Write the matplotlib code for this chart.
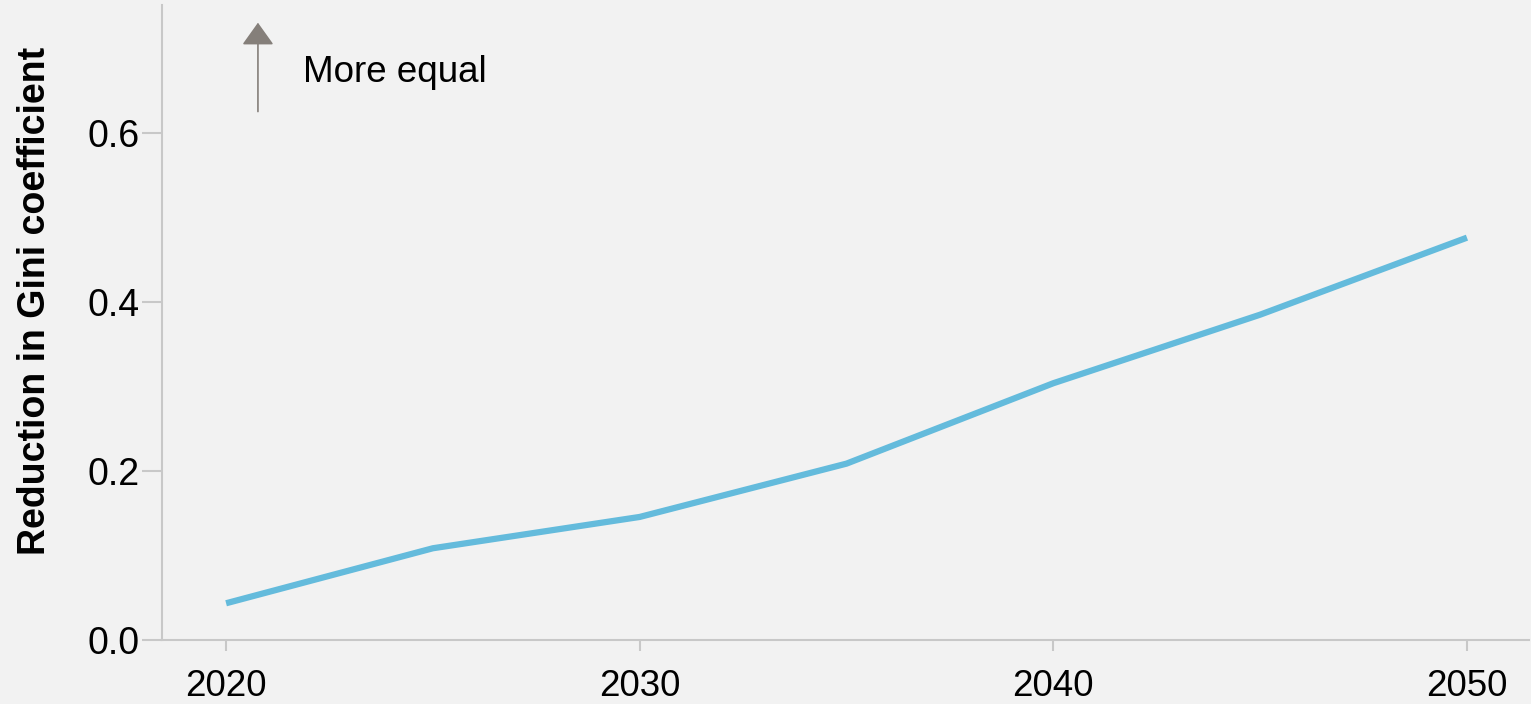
import matplotlib.pyplot as plt

years = [2020, 2025, 2030, 2035, 2040, 2045, 2050]
gini_reduction = [0.044, 0.109, 0.146, 0.209, 0.304, 0.385, 0.476]

x_ticks = [2020, 2030, 2040, 2050]
y_ticks = [0.0, 0.2, 0.4, 0.6]

BG = "#f2f2f2"
LINE = "#64bbdc"
SPINE = "#c8c8c8"
ARROW = "#857f7a"

plt.rcParams["font.family"] = ["Liberation Sans", "DejaVu Sans"]

fig = plt.figure(figsize=(15.31, 7.04), dpi=100, facecolor=BG)
ax = fig.add_axes([0.1058, 0.0902, 0.8929, 0.9028])
ax.set_facecolor(BG)

ax.plot(years, gini_reduction, color=LINE, linewidth=4.5, solid_capstyle="butt")

ax.set_xlim(2018.45, 2051.5)
ax.set_ylim(0, 0.751)
ax.set_xticks(x_ticks)
ax.set_yticks(y_ticks)
ax.set_yticklabels([f"{v:.1f}" for v in y_ticks])

for side in ["top", "right"]:
    ax.spines[side].set_visible(False)
for side in ["left", "bottom"]:
    ax.spines[side].set_color(SPINE)
    ax.spines[side].set_linewidth(1.5)

ax.tick_params(axis="x", length=8, width=1.5, color=SPINE, labelsize=26.5, pad=12.5)
ax.tick_params(axis="y", length=14.5, width=1.5, color=SPINE, labelsize=27, pad=1.5)

ax.set_ylabel("Reduction in Gini coefficient", fontsize=27, fontweight="bold")
ax.yaxis.set_label_coords(-0.0797, 0.535)

# "More equal" arrow
ax.annotate(
    "", xy=(2020.77, 0.730), xytext=(2020.77, 0.625),
    arrowprops=dict(arrowstyle="-|>,head_length=1.4,head_width=1.0",
                    color=ARROW, linewidth=1.2, shrinkA=0, shrinkB=0),
)
ax.text(2021.85, 0.671, "More equal", fontsize=26.5, va="center", ha="left")

fig.savefig("out.png", dpi=100, facecolor=BG)
